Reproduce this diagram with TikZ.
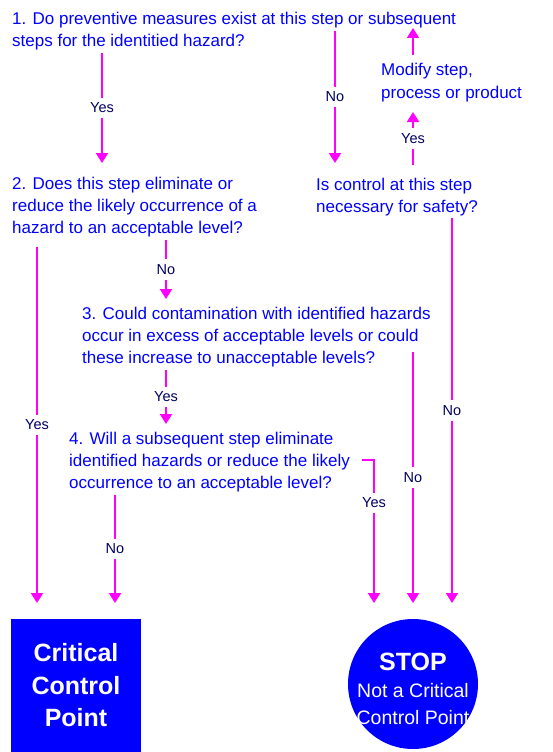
\documentclass[tikz,border=0pt]{standalone}
\usepackage{fontspec}
\setmainfont{Liberation Sans}
\usetikzlibrary{arrows.meta}
\definecolor{qblue}{HTML}{0000FF}
\definecolor{mag}{HTML}{FF00FF}
\definecolor{navy}{HTML}{000060}
\begin{document}
\begin{tikzpicture}[x=1pt,y=-1pt,
  q/.style={font=\fontsize{17}{22}\selectfont, text=qblue, align=left, inner sep=0pt, anchor=base west},
  lbl/.style={font=\fontsize{14.5}{15}\selectfont, text=navy, fill=white, inner xsep=2pt, inner ysep=5pt},
  arr/.style={draw=mag, line width=2pt, -{Triangle[width=12pt,length=10pt]}},
  ccpbox/.style={rectangle, fill=qblue, text=white, minimum width=130pt, minimum height=133pt, inner sep=0pt,
     align=center, font=\fontsize{25}{32.5}\selectfont\bfseries},
  stopcirc/.style={circle, fill=qblue, minimum size=130pt, inner sep=0pt},
  stoptext/.style={text=white, align=center, inner sep=0pt, font=\fontsize{19.5}{27}\selectfont}]
\useasboundingbox[fill=white] (0,0) rectangle (553,752);

% questions (anchored at the baseline of their last line)
\node[q] (q1) at (12,47) {1. Do preventive measures exist at this step or subsequent\\steps for the identitied hazard?};
\node[q] (q2) at (12,233) {2. Does this step eliminate or\\reduce the likely occurrence of a\\hazard to an acceptable level?};
\node[q] (qc) at (316,212) {Is control at this step\\necessary for safety?};
\node[q] (mod) at (381,98) {Modify step,\\process or product};
\node[q] (q3) at (82,363) {3. Could contamination with identified hazards\\occur in excess of acceptable levels or could\\these increase to unacceptable levels?};
\node[q] (q4) at (69,488) {4. Will a subsequent step eliminate\\identified hazards or reduce the likely\\occurrence to an acceptable level?};

% terminals
\node[ccpbox] (ccp) at (76,685.5) {Critical\\Control\\Point};
\node[stopcirc] (stop) at (413,684) {};
\node[stoptext] (stoptxt) at ([yshift=-5pt]stop.center) {{\fontsize{25}{27}\selectfont\bfseries STOP}\\Not a Critical\\Control Point};

% connector ends
\coordinate (y1s) at (102,53);  \coordinate (y1e) at (102,163);
\coordinate (n1s) at (335,31);  \coordinate (n1e) at (335,163);
\coordinate (ycs) at (413,165); \coordinate (yce) at (413,112);
\coordinate (ms)  at (413,55);  \coordinate (me)  at (413,28);
\coordinate (ncs) at (452,218); \coordinate (nce) at (452,603);
\coordinate (y2s) at (37,247);  \coordinate (y2e) at (37,603);
\coordinate (n2s) at (166,240); \coordinate (n2e) at (166,299);
\coordinate (y3s) at (166,370); \coordinate (y3e) at (166,424);
\coordinate (n3s) at (413,352); \coordinate (n3e) at (413,603);
\coordinate (y4s) at (362,460); \coordinate (y4e) at (374,603);
\coordinate (n4s) at (115,495); \coordinate (n4e) at (115,603);

% connectors
\draw[arr] (y1s) -- node[lbl]{Yes} (y1e);
\draw[arr] (n1s) -- node[lbl]{No} (n1e);
\draw[arr] (ycs) -- node[lbl]{Yes} (yce);
\draw[arr] (ms) -- (me);
\draw[arr] (ncs) -- node[lbl]{No} (nce);
\draw[arr] (y2s) -- node[lbl]{Yes} (y2e);
\draw[arr] (n2s) -- node[lbl]{No} (n2e);
\draw[arr] (y3s) -- node[lbl]{Yes} (y3e);
\draw[arr] (n3s) -- node[lbl]{No} (n3e);
\draw[arr] (y4s) -| node[lbl,pos=0.65]{Yes} (y4e);
\draw[arr] (n4s) -- node[lbl]{No} (n4e);
\end{tikzpicture}
\end{document}
